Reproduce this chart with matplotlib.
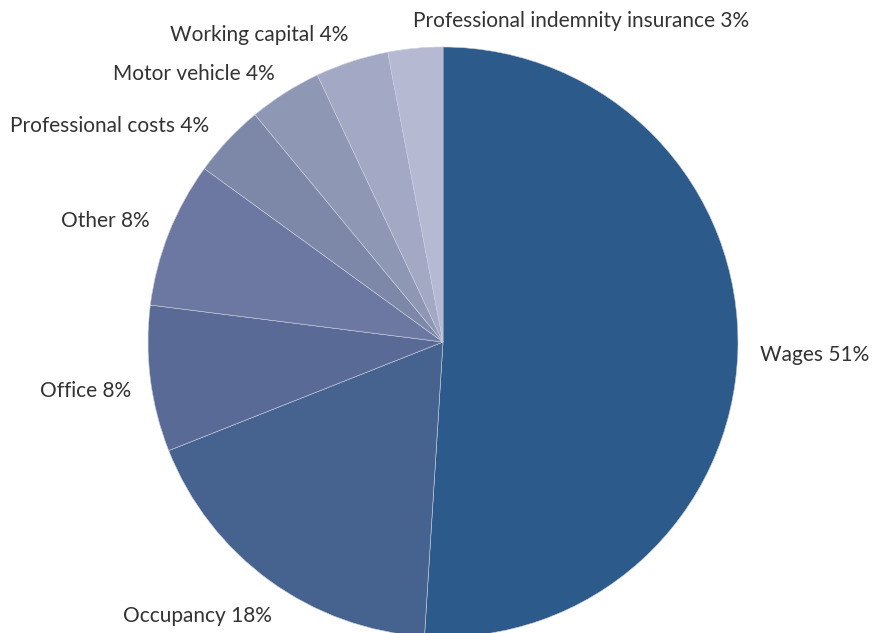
import matplotlib
matplotlib.use("Agg")
import matplotlib.pyplot as plt

# cost breakdown, clockwise from 12 o'clock
labels = ["Wages", "Occupancy", "Office", "Other", "Professional costs",
          "Motor vehicle", "Working capital", "Professional indemnity insurance"]
shares = [51, 18, 8, 8, 4, 4, 4, 3]
colors = ["#2c5a8a", "#46628f", "#596a96", "#6c78a1", "#7d88a9",
          "#8e98b5", "#a3a8c4", "#b5bad2"]

# label anchors in pie-radius units, with horizontal alignment
label_pos = [(1.075, -0.045, "left"), (-0.58, -0.93, "right"), (-1.058, -0.165, "right"),
             (-0.993, 0.41, "right"), (-0.793, 0.732, "right"), (-0.569, 0.91, "right"),
             (-0.322, 1.04, "right"), (-0.102, 1.088, "left")]

W, H = 877, 633
cx, cy, R = 443, 342, 295
fig = plt.figure(figsize=(W / 100, H / 100), dpi=100)
ax = fig.add_axes([(cx - R) / W, (H - cy - R) / H, 2 * R / W, 2 * R / H])
ax.pie(shares, colors=colors, startangle=90, counterclock=False, radius=1,
       wedgeprops=dict(edgecolor="#c9cfdf", linewidth=0.4))
ax.set_xlim(-1, 1); ax.set_ylim(-1, 1); ax.set_aspect("equal")
ax.axis("off")
for lab, v, (x, y, ha) in zip(labels, shares, label_pos):
    ax.text(x, y, f"{lab} {v}%", ha=ha, va="center", fontsize=15, color="#333333",
            family="Lato", clip_on=False)

fig.savefig("out.png", dpi=100)
